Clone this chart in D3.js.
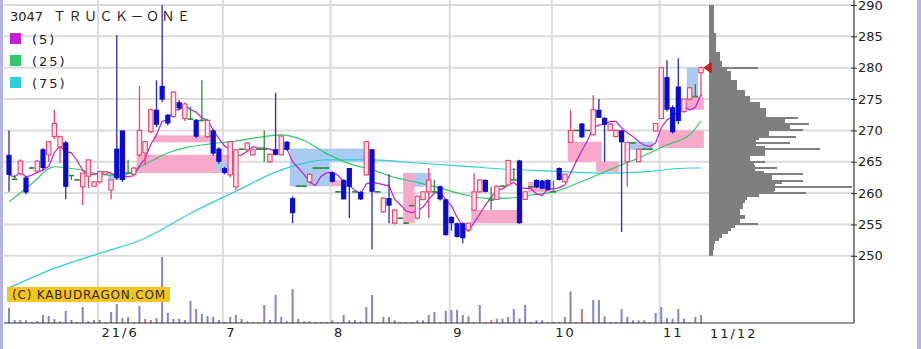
<!DOCTYPE html>
<html lang="ja">
<head>
<meta charset="UTF-8">
<title>3047 TRUCK-ONE</title>
<script src="https://cdn.jsdelivr.net/npm/d3@7"></script>
<style>
  body { margin: 0; background: #fff; }
  svg { display: block; font-family: "DejaVu Sans", Verdana, sans-serif; }
</style>
</head>
<body>
<svg id="chart" width="921" height="349"></svg>
<script>
// daily candles, 2021/5 .. 2021/11/12
const opens = [266.1,262.2,263.1,262.5,264.0,263.5,267.0,266.1,269.0,267.4,
  268.1,262.8,262.1,261.0,262.7,261.1,261.8,263.0,260.5,267.1,
  270.0,263.2,263.0,266.1,266.4,269.8,273.3,277.1,272.5,272.2,
  274.5,271.9,271.8,271.7,271.6,269.0,270.0,267.1,264.0,262.9,
  261.0,267.0,266.9,266.1,267.0,267.0,265.0,267.0,266.1,268.2,
  259.2,261.1,261.1,261.8,264.0,264.0,264.0,263.3,260.2,262.1,
  264.0,260.2,260.2,262.9,267.0,260.2,257.0,259.2,255.2,256.0,
  255.2,258.0,256.0,259.0,260.2,260.2,261.1,259.0,256.2,255.2,
  255.2,254.1,257.3,260.2,262.1,258.9,259.0,261.1,261.3,262.1,
  265.2,259.0,261.0,262.1,262.0,262.1,260.2,264.0,261.8,268.1,
  270.0,271.1,270.0,269.3,273.3,272.0,270.0,269.0,270.0,265.0,
  268.0,265.0,267.0,267.0,269.9,271.9,278.5,273.7,277.0,273.0,
  275.0,275.4,279.2];
const highs = [270.0,262.9,265.4,262.7,264.2,265.3,267.2,268.3,273.3,269.2,
  268.3,262.8,262.2,263.2,265.3,261.9,263.6,263.5,262.1,285.2,
  270.0,265.3,264.2,277.1,268.3,273.5,278.0,290.0,272.6,276.3,
  274.8,274.5,273.8,271.8,278.0,271.8,270.2,267.3,264.2,268.3,
  267.0,267.1,268.1,267.0,267.1,270.0,266.3,276.0,269.2,268.3,
  259.5,261.2,261.2,263.1,264.1,264.1,264.1,263.4,260.3,262.2,
  264.0,260.3,260.3,268.3,267.0,260.3,259.3,263.0,257.4,256.1,
  255.3,258.1,259.6,260.3,264.0,262.1,261.2,259.1,256.3,255.3,
  255.3,255.3,263.2,262.2,262.2,261.0,261.2,261.2,265.3,264.0,
  265.3,260.3,261.1,262.2,262.1,262.2,262.0,264.1,263.1,273.3,
  270.1,271.2,270.1,275.6,275.0,272.1,271.2,270.1,270.1,268.2,
  268.1,267.1,267.1,267.1,271.2,280.0,281.2,274.0,281.5,275.0,
  277.0,277.4,280.2];
const lows = [260.2,262.1,262.8,259.8,263.9,263.2,263.7,265.0,268.6,264.8,
  259.0,262.1,262.0,258.1,260.8,261.0,261.5,262.9,259.0,262.1,
  261.8,263.2,262.8,265.8,264.5,269.5,270.5,274.5,270.8,272.0,
  273.2,271.5,271.8,268.8,271.4,268.8,266.0,264.7,263.0,262.5,
  260.5,266.9,266.7,266.0,266.9,265.0,264.8,266.0,266.0,266.8,
  255.2,261.0,261.0,261.6,263.9,263.9,263.9,261.7,260.1,259.0,
  256.0,260.1,258.9,262.8,251.0,260.1,256.8,255.2,255.0,255.9,
  255.1,257.9,255.8,258.8,256.0,260.2,258.8,253.2,254.0,252.9,
  252.0,254.0,257.2,260.1,260.1,257.3,258.9,261.0,261.2,262.1,
  255.1,258.9,260.9,260.8,260.6,260.4,260.2,262.0,261.7,268.0,
  269.9,268.8,269.9,269.2,272.0,265.0,269.9,268.9,253.8,261.0,
  267.9,264.9,266.9,266.9,269.8,271.8,273.0,269.5,271.0,272.8,
  274.8,275.4,275.4];
const closes = [262.9,262.2,265.1,260.1,264.0,265.1,264.0,268.2,271.1,269.0,
  261.0,262.8,262.1,263.2,265.3,261.8,263.4,263.4,262.1,262.4,
  262.1,263.2,264.0,270.0,268.2,273.3,270.9,274.9,271.1,276.1,
  273.5,274.2,271.8,269.0,271.6,271.6,266.3,265.0,263.2,268.2,
  266.9,267.0,268.0,266.9,267.0,267.0,266.2,266.1,269.1,266.9,
  256.8,261.1,261.1,263.0,264.0,264.0,264.0,261.8,260.2,259.0,
  261.0,260.2,259.0,268.2,260.2,260.2,259.2,258.0,257.3,256.0,
  255.2,258.0,259.5,260.2,262.1,260.2,259.0,253.3,255.2,253.0,
  252.8,255.2,260.2,262.1,260.2,258.9,261.1,261.1,265.2,262.1,
  255.2,260.2,261.0,260.9,260.7,260.5,260.2,262.1,263.0,270.0,
  270.0,268.9,270.0,273.3,272.0,270.9,271.0,270.0,268.1,268.1,
  268.0,267.0,267.0,267.0,271.1,280.0,273.3,269.7,271.5,275.0,
  276.8,275.4,280.0];
// volume (thousand shares)
const volumes = [15,3,3,2.7,1,2,8,7,4,1.7,
  12,3,1,16,1.7,3,3,1,11,19,
  5,6,1,17,4,3,5,66,10,4,
  4,3,22,14,9,7,6,3,1,6,
  8,4,1.7,1,1,18,3,28,6,1.7,
  34,4,1.7,1.7,1,1,1,2.7,1,8,
  2.7,2.7,1.7,16,28,1,6,6,2.7,1,
  1,1,2.7,2.7,8,11,1,12,13,13,
  8,6.7,1,18,1,2.7,4.3,4.3,6,14,
  4.3,18,1,2.7,2.7,1,1,1,6,31.7,
  1,14,1,23,23,6.7,1,1,14,6,
  2.7,2.7,2.7,1,10,16,5,4.3,14,4.3,
  1,6,8];
const redVolIdx = [24, 85, 101, 122];

const monthStarts = [16, 38, 57, 78, 96, 115];
const monthLabels = ["21/6", "7", "8", "9", "10", "11"];
const priceTicks = [250, 255, 260, 265, 270, 275, 280, 285, 290];
const lastPrice = 280;
const lastDate = "11/12";

// moving averages
const ma25Idx = [0,4,8,12,16,20,24,28,32,36,40,44,48,52,56,60,64,68,72,76,80,84,88,92,96,100,104,108,112,116,120,122];
const ma25Val = [258.6,261.5,264.2,263.8,263.0,262.8,264.6,266.4,267.4,267.9,268.3,268.9,269.3,268.4,266.3,264.7,
  263.7,262.5,261.7,260.8,259.8,259.2,259.2,259.7,260.2,261.5,263.0,264.5,266.0,267.7,269.3,271.5];
const ma75Idx = [0,8,16,24,32,40,48,56,64,72,80,88,96,104,112,120,122];
const ma75Val = [244.9,248.0,250.4,252.8,256.8,260.3,263.7,265.3,265.3,264.8,264.3,263.8,263.5,263.2,263.4,264.0,264.0];

// shaded boxes
const boxFrom = [23,26,18,37,50,50,57,70,70,82,92,99,104,110,115,120,120];
const boxTo   = [39,36,19,39,63,56,58,74,71,90,95,104,107,113,122,121,122];
const boxLow  = [263.2,268.1,262.1,263.4,265.0,261.1,261.1,261.0,255.2,255.2,260.2,265.0,263.4,266.9,267.2,274.9,273.3];
const boxHigh = [266.1,269.2,263.2,265.0,267.1,265.0,262.1,263.2,263.2,257.3,261.8,268.2,265.0,268.2,270.0,280.0,275.3];
const boxKind = ['up','up','down','down','down','down','up','down','up','up','up','up','up','down','up','down','up'];

// volume by price, 0.5 yen bins from 250
const profBase = 250, profBin = 0.5;
const profVol = [4,4,5,5,6,10,13,19,22,26,
  31,31,36,31,31,34,34,36,38,50,
  65,66,66,73,63,63,55,46,46,45,
  41,41,56,56,56,47,47,50,60,60,
  81,81,76,76,57,57,57,51,51,41,
  41,36,36,28,28,28,22,22,22,18,
  13,13,11,11,11,7,7,7,7,7,
  7,5,5,5,5,5,5,5,5,5];
const spikePrice = [280,272,271,270,269,268,267,265,264,263,262,261,260,255];
const spikeVol   = [49,89,100,94,87,81,111,56,68,94,94,143,97,49];

const svg = d3.select('#chart');
const W = 921, H = 349;
const N = opens.length;
const x = d3.scaleLinear().domain([0, N - 1]).range([9, 701]);
const step = x(1) - x(0);
const y = d3.scaleLinear().domain([250, 290]).range([255.8, 5]);
const yv = d3.scaleLinear().domain([0, 70]).range([323, 253]);
const xp = d3.scaleLinear().domain([0, 145]).range([709, 854]);
const gridOff = -0.3 * step;

// frame strips
svg.append('rect').attr('x', 0).attr('y', 0).attr('width', 3).attr('height', H).attr('fill', '#b4b4e4');
svg.append('rect').attr('x', 917).attr('y', 0).attr('width', 4).attr('height', H).attr('fill', '#b4b4e4');

// grid
svg.append('g').selectAll('line').data(priceTicks).join('line')
  .attr('x1', 4).attr('x2', 854)
  .attr('y1', d => y(d)).attr('y2', d => y(d))
  .attr('stroke', '#dcdcdc').attr('stroke-width', 2);
svg.append('g').selectAll('line').data(monthStarts).join('line')
  .attr('x1', d => x(d) + gridOff).attr('x2', d => x(d) + gridOff)
  .attr('y1', 0).attr('y2', 323)
  .attr('stroke', '#dcdcdc').attr('stroke-width', 2);

// boxes
svg.append('g').selectAll('rect').data(d3.range(boxFrom.length)).join('rect')
  .attr('x', i => x(boxFrom[i]) - step / 2)
  .attr('width', i => x(boxTo[i]) - x(boxFrom[i]) + step)
  .attr('y', i => y(boxHigh[i]))
  .attr('height', i => y(boxLow[i]) - y(boxHigh[i]))
  .attr('fill', i => boxKind[i] === 'up' ? '#f6a9c9' : '#a9cbf2');

// moving averages
const ma5 = closes.map((c, i) => d3.mean(closes.slice(Math.max(0, i - 4), i + 1)));
const line = d3.line().curve(d3.curveMonotoneX);
svg.append('path')
  .attr('d', line(ma75Idx.map((d, i) => [x(d), y(ma75Val[i])])))
  .attr('fill', 'none').attr('stroke', '#2ccfd8').attr('stroke-width', 1.2);
svg.append('path')
  .attr('d', line(ma25Idx.map((d, i) => [x(d), y(ma25Val[i])])))
  .attr('fill', 'none').attr('stroke', '#2fc86a').attr('stroke-width', 1.2);
svg.append('path')
  .attr('d', d3.line()(ma5.map((v, i) => [x(i), y(v)])))
  .attr('fill', 'none').attr('stroke', '#c81ed2').attr('stroke-width', 1.2);

// candles
const kind = i => closes[i] > opens[i] ? 'up' : (closes[i] < opens[i] ? 'down' : 'doji');
const wickColor = { up: '#e8446f', down: '#2a2ab4', doji: '#2d8a3a' };
const cg = svg.append('g').selectAll('g').data(d3.range(N)).join('g');
cg.append('line')
  .attr('x1', i => x(i)).attr('x2', i => x(i))
  .attr('y1', i => y(highs[i])).attr('y2', i => y(lows[i]))
  .attr('stroke', i => wickColor[kind(i)]).attr('stroke-width', 1.3);
cg.filter(i => kind(i) === 'up').append('rect')
  .attr('x', i => x(i) - 2.2).attr('width', 4.4)
  .attr('y', i => y(closes[i]))
  .attr('height', i => Math.max(1, y(opens[i]) - y(closes[i])))
  .attr('fill', '#fde3ec').attr('stroke', '#e8446f').attr('stroke-width', 1.1);
cg.filter(i => kind(i) === 'down').append('rect')
  .attr('x', i => x(i) - 2.6).attr('width', 5.2)
  .attr('y', i => y(opens[i]))
  .attr('height', i => Math.max(1, y(closes[i]) - y(opens[i])))
  .attr('fill', '#0b0bd2');
cg.filter(i => kind(i) === 'doji').append('line')
  .attr('x1', i => x(i) - 2.8).attr('x2', i => x(i) + 2.8)
  .attr('y1', i => y(opens[i])).attr('y2', i => y(opens[i]))
  .attr('stroke', '#2d8a3a').attr('stroke-width', 1.6);

// volume
svg.append('g').selectAll('rect').data(d3.range(N)).join('rect')
  .attr('x', i => x(i) - 1).attr('width', 2)
  .attr('y', i => yv(volumes[i]))
  .attr('height', i => yv(0) - yv(volumes[i]))
  .attr('fill', i => redVolIdx.includes(i) ? '#cc7a6c' : '#8585c8');

// price volume profile
const prof = svg.append('g').attr('shape-rendering', 'crispEdges');
prof.selectAll('rect.bin').data(profVol).join('rect').attr('class', 'bin')
  .attr('x', xp(0))
  .attr('y', (d, k) => y(profBase + (k + 1) * profBin))
  .attr('width', d => xp(d) - xp(0))
  .attr('height', (d, k) => y(profBase + k * profBin) - y(profBase + (k + 1) * profBin) + 0.6)
  .attr('fill', '#7f7f7f');
prof.selectAll('rect.spike').data(spikePrice).join('rect').attr('class', 'spike')
  .attr('x', xp(0))
  .attr('y', d => y(d) - 1)
  .attr('width', (d, i) => xp(spikeVol[i]) - xp(0))
  .attr('height', 2)
  .attr('fill', '#7f7f7f');

// last price marker
const ly = y(lastPrice);
svg.append('path')
  .attr('d', `M${xp(0) - 5},${ly} L${xp(0) + 2},${ly - 5} L${xp(0) + 2},${ly + 5} Z`)
  .attr('fill', '#e02020').attr('stroke', '#801010').attr('stroke-width', 0.8);

// axes
svg.append('line').attr('x1', 4).attr('x2', 854).attr('y1', 323).attr('y2', 323)
  .attr('stroke', '#333').attr('stroke-width', 1.2);
svg.append('line').attr('x1', 854).attr('x2', 854).attr('y1', 0).attr('y2', 323)
  .attr('stroke', '#333').attr('stroke-width', 1.2);

const gy = svg.append('g').attr('transform', 'translate(854,0)')
  .call(d3.axisRight(y).tickValues(priceTicks).tickSize(3).tickPadding(1).tickFormat(d3.format('d')));
gy.select('.domain').remove();
gy.selectAll('.tick line').attr('x1', -3).attr('stroke', '#333');
gy.selectAll('.tick text').attr('font-size', 13).attr('fill', '#222')
  .attr('font-family', '"DejaVu Sans", Verdana, sans-serif');

const gx = svg.append('g').attr('transform', `translate(${gridOff + 3},323)`)
  .call(d3.axisBottom(x).tickValues(monthStarts).tickSize(0).tickPadding(5)
    .tickFormat((d, i) => monthLabels[i]));
gx.select('.domain').remove();
gx.selectAll('.tick text').attr('text-anchor', 'start').attr('font-size', 13)
  .attr('letter-spacing', 2).attr('fill', '#222')
  .attr('font-family', '"DejaVu Sans", Verdana, sans-serif');
svg.append('text').attr('x', xp(0) + 1).attr('y', 337.5)
  .attr('font-size', 13).attr('letter-spacing', 2).attr('fill', '#222').text(lastDate);

// copyright tag
svg.append('rect').attr('x', 7).attr('y', 287).attr('width', 163).attr('height', 15).attr('fill', '#f4c51c');
svg.append('text').attr('x', 12).attr('y', 299).attr('font-size', 12)
  .attr('textLength', 153).attr('lengthAdjust', 'spacing').attr('fill', '#2a2a2a')
  .text('(C) KABUDRAGON.COM');

// title and legend
svg.append('text').attr('x', 10).attr('y', 21).attr('font-size', 13).attr('fill', '#222').text('3047');
svg.append('text').attr('x', 53).attr('y', 21).attr('font-size', 13)
  .attr('font-family', '"Noto Sans CJK JP", sans-serif')
  .attr('textLength', 137).attr('lengthAdjust', 'spacing').attr('fill', '#222')
  .text('ＴＲＵＣＫ－ＯＮＥ');
const legNames = ['(5)', '(25)', '(75)'];
const legColors = ['#c81ed2', '#2fc86a', '#2ccfd8'];
const lg = svg.append('g').selectAll('g').data(legNames).join('g')
  .attr('transform', (d, i) => `translate(10,${33 + i * 22})`);
lg.append('rect').attr('width', 11).attr('height', 11).attr('fill', (d, i) => legColors[i]);
lg.append('text').attr('x', 22).attr('y', 11).attr('font-size', 13)
  .attr('letter-spacing', 2).attr('fill', '#222').text(d => d);
</script>
</body>
</html>
